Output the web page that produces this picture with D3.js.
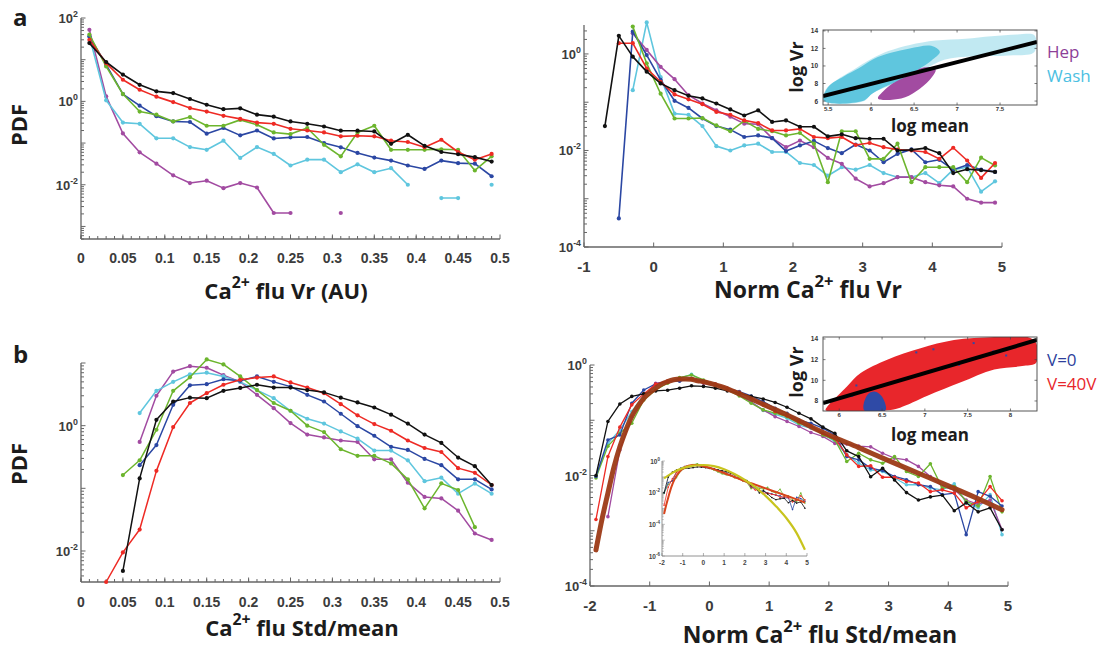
<!DOCTYPE html>
<html><head><meta charset="utf-8">
<script src="https://cdn.jsdelivr.net/npm/d3@7/dist/d3.min.js"></script>
<style>
body{margin:0;background:#fff}
svg text{font-family:"Open Sans","Liberation Sans",sans-serif}
</style></head><body>
<svg id="c" width="1104" height="652"></svg>
<script>
// ---------------- data ----------------
const aL_x = [0.01,0.03,0.05,0.07,0.09,0.11,0.13,0.15,0.17,0.19,0.21,0.23,0.25,0.27,0.29,0.31,0.33,0.35,0.37,0.39,0.41,0.43,0.45,0.47,0.49];
const aL_black = [25,8.8,4.4,2.5,1.74,1.58,1.14,0.83,0.65,0.68,0.48,0.43,0.33,0.29,0.25,0.198,0.198,0.19,0.096,0.158,0.086,0.061,0.054,0.046,0.036];
const aL_red = [30,8.3,3.3,1.9,1.3,0.96,0.69,0.57,0.45,0.38,0.31,0.29,0.22,0.2,0.18,0.145,0.15,0.145,0.114,0.106,0.079,0.12,0.061,0.04,0.055];
const aL_green = [40,6.9,1.5,0.57,0.48,0.33,0.42,0.26,0.26,0.36,0.275,0.18,0.164,0.23,0.091,0.048,0.18,0.26,0.069,0.069,0.069,0.071,0.069,0.022,0.048];
const aL_blue = [36,7.6,1.5,0.79,0.44,0.33,0.32,0.168,0.23,0.153,0.2,0.129,0.137,0.14,0.1,0.079,0.058,0.045,0.038,0.029,0.024,0.038,0.033,0.032,0.016];
const aL_cyan = [36,1.06,0.31,0.29,0.13,0.13,0.08,0.069,0.114,0.044,0.08,0.055,0.029,0.04,0.04,0.02,0.031,0.02,0.025,0.01,null,0.0048,0.0048,null,0.01];
const aL_magenta = [52,1.32,0.17,0.06,0.032,0.0168,0.011,0.0125,0.0083,0.011,0.0086,0.0021,0.0021,null,null,0.0021,null,null,null,null,null,null,null,null,null];

const aR_x = [-0.7,-0.5,-0.3,-0.1,0.1,0.3,0.5,0.7,0.9,1.1,1.3,1.5,1.7,1.9,2.1,2.3,2.5,2.7,2.9,3.1,3.3,3.5,3.7,3.9,4.1,4.3,4.5,4.7,4.9];
const aR_black = [0.032,2.37,0.88,0.43,0.245,0.178,0.136,0.12,0.094,0.071,0.053,0.068,0.039,0.042,0.031,0.031,0.0196,0.0216,0.018,0.0175,0.0175,0.01,0.0103,0.0112,0.0088,0.0034,0.0041,0.0039,0.0036];
const aR_red = [null,1.67,1.67,0.5,0.265,0.145,0.115,0.091,0.063,0.055,0.042,0.037,0.026,0.026,0.028,0.019,0.018,0.019,0.013,0.0143,0.0117,0.0104,0.01,0.0093,0.0067,0.0114,0.0062,0.0027,0.0055];
const aR_green = [null,null,3.7,0.64,0.15,0.046,0.046,0.047,0.033,0.025,0.041,0.028,0.025,0.0205,0.023,0.0138,0.0022,0.025,0.025,0.0067,0.0067,0.0138,0.0022,0.0045,0.0045,0.0045,0.0022,0.0071,0.0049];
const aR_blue = [null,0.00039,2.9,0.95,0.29,0.107,0.076,0.046,0.032,0.027,0.019,0.0205,0.018,0.0097,0.0127,0.0158,0.0112,0.0088,0.0133,0.01,0.0057,0.0085,0.0105,0.0057,0.0064,0.004,0.005,0.004,0.0036];
const aR_cyan = [null,null,0.178,4.5,0.33,0.058,0.055,0.032,0.0123,0.01,0.0127,0.0138,0.0093,0.0093,0.0055,0.005,0.003,0.0045,0.004,0.005,0.0034,0.0028,0.0028,0.0034,0.0021,0.004,0.0045,0.0014,0.0023];
const aR_magenta = [null,null,2.7,1.21,0.54,0.3,0.14,0.094,0.068,0.05,0.036,0.035,0.018,0.0117,0.016,0.0117,0.007,0.0053,0.0026,0.0018,0.0021,0.0028,0.0028,0.0022,0.0019,0.0018,0.001,0.00083,0.00083];

const bL_x = [0.03,0.05,0.07,0.09,0.11,0.13,0.15,0.17,0.19,0.21,0.23,0.25,0.27,0.29,0.31,0.33,0.35,0.37,0.39,0.41,0.43,0.45,0.47,0.49];
const bL_red = [0.0032,0.0095,0.022,0.19,0.95,2.3,3.3,4.5,5.4,5.85,6.1,4.9,4.06,3.3,2.2,1.46,1.06,0.83,0.58,0.44,0.38,0.21,0.177,0.113];
const bL_black = [null,0.0048,0.144,1.24,2.43,2.8,2.75,3.6,4.0,4.5,4.06,4.06,3.7,3.4,2.8,2.35,1.95,1.5,1.08,0.72,0.53,0.31,0.226,0.113];
const bL_blue = [null,null,0.234,0.49,2.15,4.4,4.6,5.5,5.2,6.1,5.0,4.2,3.1,2.43,1.55,0.98,0.69,0.46,0.41,0.295,0.234,0.139,0.139,0.096];
const bL_green = [null,0.163,0.28,0.86,3.6,5.9,11.4,9.5,6.1,3.7,2.3,1.73,1.0,0.79,0.42,0.33,0.33,0.25,0.139,0.048,0.12,0.094,0.024,null];
const bL_magenta = [null,null,0.55,3.0,7.3,8.9,8.4,6.4,5.0,3.1,1.9,1.1,0.72,0.65,0.58,0.55,0.29,0.29,0.123,0.073,0.069,0.044,0.019,0.015];
const bL_cyan = [null,null,1.59,3.6,5.0,6.6,7.0,6.1,5.0,3.7,2.75,1.73,1.29,1.08,0.81,0.62,0.4,0.4,0.28,0.13,0.148,0.082,0.119,0.082];

const bR_x = [-1.9,-1.7,-1.5,-1.3,-1.1,-0.9,-0.7,-0.5,-0.3,-0.1,0.1,0.3,0.5,0.7,0.9,1.1,1.3,1.5,1.7,1.9,2.1,2.3,2.5,2.7,2.9,3.1,3.3,3.5,3.7,3.9,4.1,4.3,4.5,4.7,4.9];
const bR_black = [0.01,0.095,0.197,0.27,0.3,0.34,0.35,0.38,0.42,0.41,0.38,0.34,0.31,0.27,0.243,0.21,0.172,0.134,0.106,0.075,0.058,0.028,0.022,0.0095,0.0135,0.0083,0.0049,0.0036,0.0041,0.0044,0.0023,0.0032,0.0022,0.0026,0.00104];
const bR_red = [0.0016,0.022,0.075,0.19,0.3,0.45,0.51,0.55,0.55,0.48,0.45,0.38,0.32,0.25,0.19,0.144,0.121,0.095,0.079,0.058,0.047,0.0236,0.0146,0.015,0.0093,0.0093,0.0078,0.0073,0.0051,0.0055,0.0048,0.0026,0.0034,0.0063,0.0035];
const bR_blue = [0.0096,0.044,0.054,0.203,0.353,0.454,0.5,0.51,0.57,0.5,0.45,0.38,0.33,0.275,0.217,0.165,0.134,0.101,0.088,0.072,0.054,0.022,0.0192,0.0136,0.0123,0.0096,0.0084,0.0068,0.0063,0.0045,0.0048,0.00085,0.0051,0.0042,0.0028];
const bR_green = [0.009,0.034,0.058,0.088,0.233,0.353,0.467,0.59,0.66,0.536,0.435,0.353,0.275,0.203,0.154,0.134,0.116,0.088,0.077,0.054,0.044,0.0179,0.0253,0.0192,0.0167,0.022,0.0118,0.0096,0.0163,0.0059,0.0063,0.0034,0.0028,0.0096,0.0022];
const bR_magenta = [null,0.0018,0.029,0.116,0.26,0.467,0.51,0.536,0.55,0.467,0.417,0.353,0.287,0.211,0.154,0.116,0.095,0.077,0.06,0.051,0.038,0.037,0.034,0.033,0.0253,0.0206,0.0192,0.0146,0.0096,0.0063,0.0055,0.0036,0.003,0.0036,0.00105];
const bR_cyan = [0.0096,0.038,0.067,0.144,0.287,0.406,0.5,0.574,0.68,0.5,0.435,0.363,0.287,0.217,0.15,0.128,0.109,0.082,0.072,0.057,0.041,0.0236,0.0167,0.0126,0.0118,0.009,0.0068,0.0068,0.0059,0.0055,0.0071,0.0032,0.0026,0.0045,0.00085];

const fit_x = [-1.9,-1.8,-1.7,-1.6,-1.5,-1.4,-1.3,-1.2,-1.1,-1.0,-0.9,-0.8,-0.7,-0.6,-0.5,-0.4,-0.3,-0.2,-0.1,0,0.25,0.5,0.75,1.0,1.25,1.5,1.75,2.0,2.5,3.0,3.5,4.0,4.5,4.9];
const fit_y = [0.00045,0.0016,0.0048,0.014,0.033,0.066,0.117,0.178,0.25,0.316,0.38,0.45,0.5,0.54,0.56,0.56,0.55,0.52,0.5,0.47,0.39,0.30,0.23,0.174,0.132,0.098,0.072,0.054,0.032,0.0186,0.011,0.0065,0.0038,0.0024];

const gauss_x = [-1.9,-1.5,-1,-0.5,0,0.5,1,1.5,2,2.5,3,3.5,4,4.5,4.9];
const gauss_y = [0.081,0.178,0.355,0.51,0.56,0.47,0.30,0.15,0.063,0.0224,0.0063,0.0014,0.00025,0.000028,0.0000025];

// inset scatter clouds (outlines in data coordinates)
const insA_cyanSparse = [[5.45,6.0],[5.47,7.3],[5.6,8.4],[5.8,9.6],[6.0,10.8],[6.2,11.7],[6.45,12.4],[6.75,12.9],[7.1,13.1],[7.4,13.4],[7.7,13.6],[7.9,13.5],[7.9,11.6],[7.6,11.2],[7.2,11.1],[6.85,10.7],[6.6,9.5],[6.4,8.5],[6.2,7.7],[6.0,6.8],[5.92,6.0]];
const insA_cyanCore = [[5.45,6.05],[5.5,7.6],[5.68,8.8],[5.85,9.7],[6.03,10.8],[6.23,11.5],[6.45,12.0],[6.7,12.3],[6.8,11.6],[6.7,10.6],[6.55,9.6],[6.4,8.6],[6.2,7.8],[6.02,6.9],[5.9,6.0]];
const insA_magenta = [[6.08,6.3],[6.35,6.3],[6.52,7.1],[6.68,8.4],[6.75,9.6],[6.6,9.8],[6.45,9.0],[6.25,8.0],[6.15,7.2]];
const insA_fitX = [5.44,7.93], insA_fitY = [6.57,12.74];
const insB_red = [[5.84,7.1],[6.09,9.4],[6.25,10.7],[6.56,12.0],[6.95,13.1],[7.34,13.9],[7.81,14.19],[8.2,14.19],[8.3,13.6],[8.3,11.7],[8.16,11.4],[7.81,11.05],[7.42,9.8],[7.03,8.5],[6.71,7.35],[6.56,7.1],[6.25,7.03],[5.9,7.03]];
const insB_blue = [[6.29,7.1],[6.33,8.6],[6.42,8.9],[6.5,8.4],[6.54,7.1]];
const insB_bluePts = [[7.57,13.6],[7.8,12.8],[7.1,13.0],[7.95,12.4],[6.9,12.7],[7.4,11.5],[6.2,9.5],[6.15,8.5],[7.65,12.2],[8.05,13.2]];
const insB_fitX = [5.81,8.31], insB_fitY = [7.8,13.9];

const COL = {black:'#111111', red:'#ee2a24', green:'#6cb52d', blue:'#2b47a3', cyan:'#5fc6de', magenta:'#a24ba1', brown:'#9c3a16'};
const TF = '"Liberation Sans Narrow","Arial Narrow","Liberation Sans",sans-serif';

// ---------------- drawing ----------------
const svg = d3.select('#c');

function panel(p){
  const x = d3.scaleLinear().domain(p.xd).range(p.xr);
  const y = d3.scaleLog().domain(p.yd).range(p.yr);
  const g = svg.append('g');
  const x0 = p.xr[0], x1 = p.xr[1], yb = p.yr[0], yt = p.yr[1];
  const ax = g.append('g').attr('stroke','#666').attr('stroke-width',1);
  ax.append('line').attr('x1',x0).attr('x2',x1).attr('y1',yb).attr('y2',yb).attr('stroke-width',1.3);
  ax.append('line').attr('x1',x0).attr('x2',x0).attr('y1',yb).attr('y2',yt).attr('stroke-width',1.3);
  (p.xMinor||[]).forEach(v=>ax.append('line').attr('x1',x(v)).attr('x2',x(v)).attr('y1',yb).attr('y2',yb-3));
  p.xMajor.forEach(v=>{
    ax.append('line').attr('x1',x(v)).attr('x2',x(v)).attr('y1',yb).attr('y2',yb-4.5);
    g.append('text').attr('x',x(v)).attr('y',yb+p.xlOff).attr('text-anchor','middle')
      .attr('font-weight','bold').attr('font-size',p.tfs||14).attr('fill','#3c3c3c')
      .style('font-family',TF).text(v);
  });
  const lo = Math.floor(Math.log10(p.yd[0])), hi = Math.ceil(Math.log10(p.yd[1]));
  for(let e=lo;e<=hi;e++) for(let m=1;m<=9;m++){
    const v = m*Math.pow(10,e);
    if(v < p.yd[0]*0.999 || v > p.yd[1]*1.001) continue;
    ax.append('line').attr('x1',x0).attr('x2',x0+(m===1?4.5:3)).attr('y1',y(v)).attr('y2',y(v));
  }
  p.yLabels.forEach(e=>{
    const t = g.append('text').attr('x',x0-3).attr('y',y(Math.pow(10,e))+5).attr('text-anchor','end')
      .attr('font-weight','bold').attr('fill','#3c3c3c').style('font-family',TF).attr('font-size',p.yfs||13);
    t.append('tspan').text('10');
    t.append('tspan').attr('dy',-6).attr('font-size',(p.yfs||13)*0.68).text(e<0 ? '-'+(-e) : ''+e);
  });
  const line = d3.line().defined(d=>d[1]!=null).x(d=>x(d[0])).y(d=>y(d[1]));
  p.series.forEach(s=>{
    const pts = p.xs.map((xv,i)=>[xv,s.v[i]]);
    g.append('path').attr('d',line(pts)).attr('fill','none').attr('stroke',s.c)
      .attr('stroke-width',p.lw||1.6).attr('stroke-linejoin','round');
    g.selectAll(null).data(pts.filter(d=>d[1]!=null)).enter().append('circle')
      .attr('cx',d=>x(d[0])).attr('cy',d=>y(d[1])).attr('r',p.mr||2.1).attr('fill',s.c);
  });
  return {x,y,g};
}

function title(x, y, parts, size){
  const t = svg.append('text').attr('x',x).attr('y',y).attr('text-anchor','middle')
    .attr('font-weight','bold').attr('font-size',size).attr('fill','#1c1c1c');
  let prevSup = false;
  parts.forEach(([s,sup])=>{
    const ts = t.append('tspan').text(s);
    if(sup){ ts.attr('dy',-0.5*size).attr('font-size',size*0.72); }
    else if(prevSup){ ts.attr('dy',0.5*size); }
    prevSup = !!sup;
  });
}

// Panel a-left
panel({xd:[0,0.5], xr:[81,500], yd:[5e-4,100], yr:[239,18], xs:aL_x,
  xMajor:[0,0.05,0.1,0.15,0.2,0.25,0.3,0.35,0.4,0.45,0.5],
  xMinor:d3.range(0,0.5,0.01), xlOff:24, yLabels:[2,0,-2],
  series:[{v:aL_magenta,c:COL.magenta},{v:aL_cyan,c:COL.cyan},{v:aL_blue,c:COL.blue},{v:aL_green,c:COL.green},{v:aL_red,c:COL.red},{v:aL_black,c:COL.black}]});

// Panel a-right
panel({xd:[-1,5], xr:[584,1002], yd:[1e-4,3.98], yr:[247,25], xs:aR_x,
  xMajor:[-1,0,1,2,3,4,5], xlOff:25, yLabels:[0,-2,-4], tfs:15,
  series:[{v:aR_cyan,c:COL.cyan},{v:aR_magenta,c:COL.magenta},{v:aR_blue,c:COL.blue},{v:aR_green,c:COL.green},{v:aR_red,c:COL.red},{v:aR_black,c:COL.black}]});

// Panel b-left
panel({xd:[0,0.5], xr:[81,500], yd:[0.0032,10], yr:[582,363], xs:bL_x,
  xMajor:[0,0.05,0.1,0.15,0.2,0.25,0.3,0.35,0.4,0.45,0.5],
  xMinor:d3.range(0,0.5,0.01), xlOff:25, yLabels:[0,-2], lw:1.5,
  series:[{v:bL_magenta,c:COL.magenta},{v:bL_cyan,c:COL.cyan},{v:bL_green,c:COL.green},{v:bL_blue,c:COL.blue},{v:bL_red,c:COL.red},{v:bL_black,c:COL.black}]});

// Panel b-right
const pBR = panel({xd:[-2,5], xr:[590,1008], yd:[1e-4,1], yr:[586,365], xs:bR_x,
  xMajor:[-2,-1,0,1,2,3,4,5], xlOff:25, yLabels:[0,-2,-4], lw:1.3, mr:1.8, tfs:15,
  series:[{v:bR_cyan,c:COL.cyan},{v:bR_magenta,c:COL.magenta},{v:bR_green,c:COL.green},{v:bR_blue,c:COL.blue},{v:bR_red,c:COL.red},{v:bR_black,c:COL.black}]});
pBR.g.append('path').attr('d', d3.line().curve(d3.curveMonotoneX).x(d=>pBR.x(d[0])).y(d=>pBR.y(d[1]))(fit_x.map((v,i)=>[v,fit_y[i]])))
  .attr('fill','none').attr('stroke',COL.brown).attr('stroke-width',5).attr('stroke-linecap','round').attr('opacity',0.95);

// small inset in b-right
(function(){
  const x = d3.scaleLinear().domain([-2,5]).range([662,807]);
  const y = d3.scaleLog().domain([1e-6,1]).range([556,461]);
  const g = svg.append('g');
  g.append('path').attr('d',`M662,461V556H807`).attr('fill','none').attr('stroke','#777').attr('stroke-width',0.8);
  [-2,-1,0,1,2,3,4,5].forEach(v=>{
    g.append('line').attr('x1',x(v)).attr('x2',x(v)).attr('y1',556).attr('y2',553).attr('stroke','#777').attr('stroke-width',0.6);
    g.append('text').attr('x',x(v)).attr('y',565).attr('text-anchor','middle').attr('font-size',6.5).attr('font-weight','bold').attr('fill','#444').style('font-family',TF).text(v);
  });
  for(let e=-6;e<=0;e++) for(let m=1;m<=9;m++){ const v=m*Math.pow(10,e); if(v>1) continue;
    g.append('line').attr('x1',662).attr('x2',662+(m===1?3:1.8)).attr('y1',y(v)).attr('y2',y(v)).attr('stroke','#888').attr('stroke-width',0.5); }
  [0,-2,-4,-6].forEach(e=>{
    const t=g.append('text').attr('x',660).attr('y',y(Math.pow(10,e))+2.5).attr('text-anchor','end').attr('font-size',6.5).attr('font-weight','bold').attr('fill','#444').style('font-family',TF);
    t.append('tspan').text('10'); t.append('tspan').attr('dy',-3).attr('font-size',4.5).text(e<0?'-'+(-e):'0');
  });
  const ln = d3.line().defined(d=>d[1]!=null).x(d=>x(d[0])).y(d=>y(d[1]));
  [[bR_green,COL.green],[bR_blue,COL.blue],[bR_red,COL.red],[bR_black,COL.black]].forEach(([v,c])=>{
    const pts = bR_x.map((xv,i)=>[xv,v[i]]);
    g.append('path').attr('d',ln(pts)).attr('fill','none').attr('stroke',c).attr('stroke-width',0.8);
    g.selectAll(null).data(pts.filter(d=>d[1]!=null)).enter().append('circle').attr('cx',d=>x(d[0])).attr('cy',d=>y(d[1])).attr('r',0.8).attr('fill',c);
  });
  g.append('path').attr('d',d3.line().curve(d3.curveMonotoneX).x(d=>x(d[0])).y(d=>y(d[1]))(fit_x.map((v,i)=>[v,fit_y[i]])))
    .attr('fill','none').attr('stroke','#d8441c').attr('stroke-width',2);
  g.append('path').attr('d',d3.line().curve(d3.curveMonotoneX).x(d=>x(d[0])).y(d=>y(d[1]))(gauss_x.map((v,i)=>[v,gauss_y[i]])))
    .attr('fill','none').attr('stroke','#c8c41e').attr('stroke-width',2.2);
})();

// insets with scatter
function inset(p){
  const x = d3.scaleLinear().domain(p.xd).range(p.xr);
  const y = d3.scaleLinear().domain(p.yd).range(p.yr);
  const g = svg.append('g');
  const id = 'clip'+Math.round(p.xr[0]+p.yr[0]);
  svg.append('clipPath').attr('id',id).append('rect').attr('x',p.xr[0]).attr('y',p.yr[1]).attr('width',p.xr[1]-p.xr[0]).attr('height',p.yr[0]-p.yr[1]);
  g.append('rect').attr('x',p.xr[0]).attr('y',p.yr[1]).attr('width',p.xr[1]-p.xr[0]).attr('height',p.yr[0]-p.yr[1]).attr('fill','#fff');
  const cg = g.append('g').attr('clip-path',`url(#${id})`);
  const poly = d3.line().curve(d3.curveCatmullRomClosed).x(d=>x(d[0])).y(d=>y(d[1]));
  p.polys.forEach(pp=>cg.append('path').attr('d',poly(pp.d)).attr('fill',pp.c).attr('opacity',pp.o||1));
  (p.pts||[]).forEach(pp=>cg.selectAll(null).data(pp.d).enter().append('rect').attr('x',d=>x(d[0])-1).attr('y',d=>y(d[1])-1).attr('width',2).attr('height',2).attr('fill',pp.c));
  cg.append('line').attr('x1',x(p.fitX[0])).attr('x2',x(p.fitX[1])).attr('y1',y(p.fitY[0])).attr('y2',y(p.fitY[1])).attr('stroke','#000').attr('stroke-width',4);
  g.append('rect').attr('x',p.xr[0]).attr('y',p.yr[1]).attr('width',p.xr[1]-p.xr[0]).attr('height',p.yr[0]-p.yr[1]).attr('fill','none').attr('stroke','#444').attr('stroke-width',0.9);
  p.xt.forEach(v=>{
    g.append('line').attr('x1',x(v)).attr('x2',x(v)).attr('y1',p.yr[0]).attr('y2',p.yr[0]-2.5).attr('stroke','#444').attr('stroke-width',0.7);
    g.append('line').attr('x1',x(v)).attr('x2',x(v)).attr('y1',p.yr[1]).attr('y2',p.yr[1]+2.5).attr('stroke','#444').attr('stroke-width',0.7);
    g.append('text').attr('x',x(v)).attr('y',p.yr[0]+6).attr('text-anchor','middle').attr('font-size',6).attr('font-weight','bold').attr('fill','#333').style('font-family',TF).text(v);
  });
  p.yt.forEach(v=>{
    g.append('line').attr('x1',p.xr[0]).attr('x2',p.xr[0]+2.5).attr('y1',y(v)).attr('y2',y(v)).attr('stroke','#444').attr('stroke-width',0.7);
    g.append('line').attr('x1',p.xr[1]).attr('x2',p.xr[1]-2.5).attr('y1',y(v)).attr('y2',y(v)).attr('stroke','#444').attr('stroke-width',0.7);
    g.append('text').attr('x',p.xr[0]-5).attr('y',y(v)+2.5).attr('text-anchor','end').attr('font-size',6.5).attr('font-weight','bold').attr('fill','#333').style('font-family',TF).text(v);
  });
  return {x,y,g};
}

inset({xd:[5.44,7.93], xr:[823,1037], yd:[5.55,14.1], yr:[105,30],
  xt:[5.5,6,6.5,7,7.5], yt:[6,8,10,12,14],
  polys:[{d:insA_cyanSparse,c:'#a6dfec',o:0.7},{d:insA_cyanCore,c:COL.cyan},{d:insA_magenta,c:'#a24ba1'}],
  fitX:insA_fitX, fitY:insA_fitY});
inset({xd:[5.81,8.31], xr:[823,1037], yd:[7.03,14.19], yr:[411,337],
  xt:[6,6.5,7,7.5,8], yt:[8,10,12,14],
  polys:[{d:insB_red,c:'#e8262b'},{d:insB_blue,c:'#2f4aa6'}],
  pts:[{d:insB_bluePts,c:'#2f4aa6'}],
  fitX:insB_fitX, fitY:insB_fitY});

// texts
const T = (x,y,s,size,opt={})=>{
  const t = svg.append('text').attr('x',x).attr('y',y).attr('font-size',size).attr('font-weight',opt.w||'bold')
    .attr('fill',opt.c||'#1c1c1c').attr('text-anchor',opt.a||'start').text(s);
  if(opt.r) t.attr('transform',`rotate(-90,${x},${y})`);
  return t;
};
T(13,26,'a',24); T(13,363,'b',24);
T(27,125,'PDF',22,{a:'middle',r:1}); T(27,464,'PDF',22,{a:'middle',r:1});
T(803,67,'log Vr',18,{a:'middle',r:1}); T(930,132,'log mean',17,{a:'middle'});
T(803,372,'log Vr',18,{a:'middle',r:1}); T(930,441,'log mean',17,{a:'middle'});
T(1047,58,'Hep',17,{w:'normal',c:'#8d3f98'}); T(1047,82,'Wash',17,{w:'normal',c:'#4cbfe2'});
T(1047,366,'V=0',17,{w:'normal',c:'#2e3f9c'}); T(1047,390,'V=40V',17,{w:'normal',c:'#e8262b'});

title(286,299,[['Ca',0],['2+',1],[' flu Vr (AU)',0]],22);
title(808,298,[['Norm Ca',0],['2+',1],[' flu Vr',0]],23);
title(302,636,[['Ca',0],['2+',1],[' flu Std/mean',0]],22);
title(820,643,[['Norm Ca',0],['2+',1],[' flu Std/mean',0]],23);
</script>
</body></html>
